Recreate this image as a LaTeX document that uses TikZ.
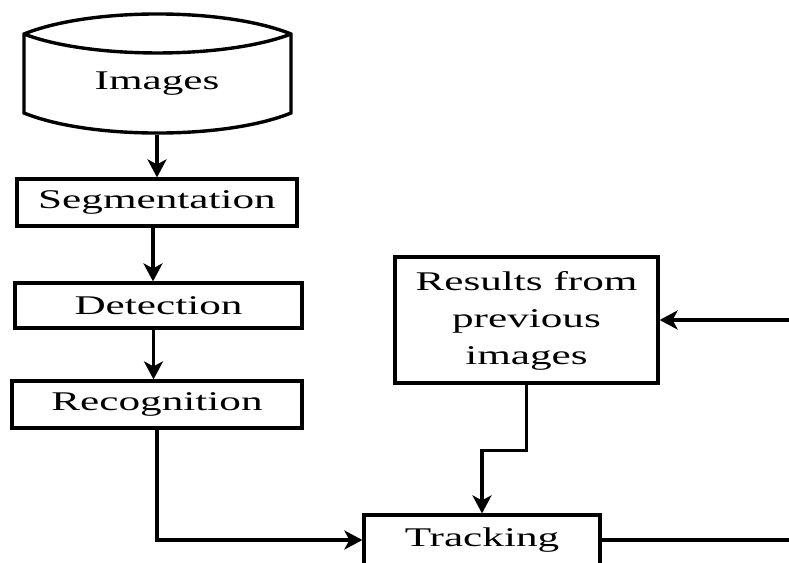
\documentclass[tikz,border=0pt]{standalone}
\usepackage{fontspec}
\setmainfont{Liberation Serif}
\usepackage{graphicx}
\usetikzlibrary{arrows.meta}

\newcommand{\wtext}[1]{\scalebox{1.6}[1]{#1}}

\tikzset{
  blk/.style={draw, line width=1.6pt, inner sep=0pt, font=\fontsize{13.5}{18.5}\selectfont},
  flow/.style={line width=1.7pt, -{Stealth[length=9pt,width=9.5pt,inset=2.5pt]}},
  link/.style={line width=1.7pt}
}

\begin{document}
\begin{tikzpicture}[x=0.5pt,y=0.5pt,yscale=-1,xscale=1]
            \useasboundingbox (0,0) rectangle (789,563);
            \clip (0,0) rectangle (789,563);
                %Cylinder
                \draw [link] (24,34) -- (24,113) .. controls (90,139.7) and (225,139.7) .. (291,113) -- (291,34) .. controls (225,7.3) and (90,7.3) .. (24,34) -- cycle;
                \draw [link] (24,34) .. controls (90,59.3) and (225,59.3) .. (291,34);
                % Text Node
                \node (img) [blk, draw=none, minimum width=133.5pt, minimum height=49.5pt] at (157,83.5) {\wtext{Images}};
                % Text Node
                \node (seg) [blk, minimum width=140pt, minimum height=23.5pt] at (157,202.5) {\wtext{Segmentation}};
                % Text Node
                \node (det) [blk, minimum width=143.5pt, minimum height=22.5pt] at (158.5,305.5) {\wtext{Detection}};
                % Text Node
                \node (rec) [blk, minimum width=145pt, minimum height=23.5pt] at (157,404.5) {\wtext{Recognition}};
                % Text Node
                \node (res) [blk, minimum width=131.5pt, minimum height=63pt] at (526.5,320) {\wtext{\begin{tabular}{@{}c@{}}Results from\\previous\\images\end{tabular}}};
                % Text Node
                \node (trk) [blk, minimum width=118pt, minimum height=25pt] at (482,540) {\wtext{Tracking}};
                \coordinate (fb) at (789,320);
                \coordinate (out) at (789,540);

                %Straight Lines
                \draw [flow] (img.south) -- (seg.north);
                \draw [flow] ([xshift=-2pt]seg.south) -- ([xshift=-2pt]seg.south |- det.north);
                \draw [flow] ([xshift=-2.5pt]det.south) -- ([xshift=-2.5pt]det.south |- rec.north);
                \draw [flow] (rec.south) |- (trk.west);
                \draw [flow] (res.south) -- ++(0,66) -| (trk.north);
                \draw [flow] (fb) -- (res.east);
                \draw [link] (trk.east) -- (out);
\end{tikzpicture}
\end{document}
